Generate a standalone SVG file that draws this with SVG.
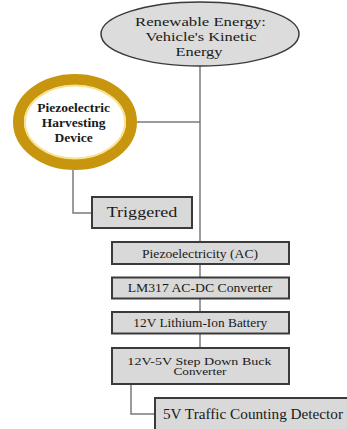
<svg xmlns="http://www.w3.org/2000/svg" width="347" height="429" viewBox="0 0 347 429">
  <style>
    .box { fill: #d9d9d9; stroke: #3a3a3a; stroke-width: 2; }
    .wire { fill: none; stroke: #7a7a7a; stroke-width: 1.5; }
    text { font-family: 'Liberation Serif', 'Times New Roman', Times, serif; fill: #1a1a1a; }
    .c { text-anchor: middle; }
    .s { font-size: 11.6px; }
  </style>
  <rect width="347" height="429" fill="#ffffff"/>

  <g id="connectors">
    <line class="wire" x1="200" y1="66" x2="200" y2="348"/>
    <line class="wire" x1="137" y1="122" x2="200" y2="122"/>
    <polyline class="wire" points="73,170 73,213 92,213"/>
    <polyline class="wire" points="131,384 131,414 155,414"/>
  </g>

  <g id="source">
    <ellipse cx="200" cy="34" rx="99" ry="32" fill="#dcdcdc" stroke="#3a3a3a" stroke-width="1.5"/>
    <text class="c" font-size="13.5" x="200.5" y="25.5" textLength="131" lengthAdjust="spacingAndGlyphs">Renewable Energy:</text>
    <text class="c" font-size="13.5" x="201" y="40.5" textLength="111" lengthAdjust="spacingAndGlyphs">Vehicle's Kinetic</text>
    <text class="c" font-size="13.5" x="199" y="55.5" textLength="47" lengthAdjust="spacingAndGlyphs">Energy</text>
  </g>

  <g id="harvester">
    <ellipse cx="75" cy="122" rx="56.5" ry="42.5" fill="#ffffff" stroke="#c8960e" stroke-width="11"/>
    <ellipse cx="75" cy="122" rx="50" ry="36.5" fill="none" stroke="#f7e28e" stroke-width="2"/>
    <text class="c" font-size="13.5" font-weight="bold" x="73.7" y="112">Piezoelectric</text>
    <text class="c" font-size="13.5" font-weight="bold" x="73.7" y="127">Harvesting</text>
    <text class="c" font-size="13.5" font-weight="bold" x="73.7" y="141.5">Device</text>
  </g>

  <g id="triggered">
    <rect class="box" x="92" y="197" width="100" height="31"/>
    <text class="c" font-size="15" x="142" y="216.5" textLength="70.7" lengthAdjust="spacingAndGlyphs">Triggered</text>
  </g>

  <g id="piezo-ac">
    <rect class="box" x="112" y="242" width="177" height="22"/>
    <text class="c s" x="200" y="258" textLength="116" lengthAdjust="spacingAndGlyphs">Piezoelectricity (AC)</text>
  </g>

  <g id="lm317">
    <rect class="box" x="112" y="277.5" width="177" height="21"/>
    <text class="c s" x="200" y="291.7" textLength="144.7" lengthAdjust="spacingAndGlyphs">LM317 AC-DC Converter</text>
  </g>

  <g id="battery">
    <rect class="box" x="112" y="312" width="177" height="21.5"/>
    <text class="c s" x="200.3" y="326.7" textLength="134" lengthAdjust="spacingAndGlyphs">12V Lithium-Ion Battery</text>
  </g>

  <g id="buck">
    <rect class="box" x="112" y="348" width="177" height="36"/>
    <text class="c" font-size="11" x="199.5" y="364.5" textLength="144.3" lengthAdjust="spacingAndGlyphs">12V-5V Step Down Buck</text>
    <text class="c" font-size="11" x="200" y="375" textLength="53" lengthAdjust="spacingAndGlyphs">Converter</text>
  </g>

  <g id="detector">
    <rect class="box" x="155" y="398" width="194" height="33"/>
    <text font-size="14" x="163" y="418.5" textLength="180" lengthAdjust="spacingAndGlyphs">5V Traffic Counting Detector</text>
  </g>
</svg>
